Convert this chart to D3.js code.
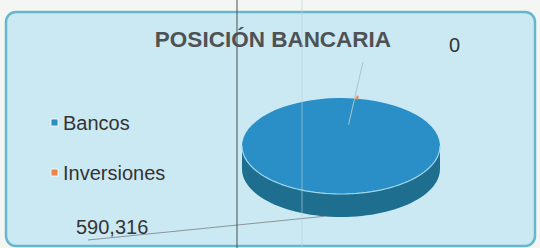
<!DOCTYPE html>
<html>
<head>
<meta charset="utf-8">
<script src="https://cdn.jsdelivr.net/npm/d3@7"></script>
<style>
  body { margin: 0; background: #f4f6f4; }
  text { font-family: "Liberation Sans", Arial, sans-serif; }
</style>
</head>
<body>
<script>
// data
var categories = ["Bancos", "Inversiones"];
var values = [590316, 0];
var valueLabels = ["590,316", "0"];
var colors = ["#2a8fc6", "#e8864c"];
var sideColors = ["#1e6e90", "#b5643a"];

var svgWidth = 540;
var svgHeight = 248;

var svg = d3.select("body")
  .append("svg")
  .attr("width", svgWidth)
  .attr("height", svgHeight);

// chart area (rounded box)
svg.append("rect")
  .attr("x", 6).attr("y", 12)
  .attr("width", 529).attr("height", 234)
  .attr("rx", 10)
  .attr("fill", "#cbe9f3")
  .attr("stroke", "#67b7cc")
  .attr("stroke-width", 2.5);

// title
svg.append("text")
  .attr("x", 273).attr("y", 47)
  .attr("text-anchor", "middle")
  .style("font-size", "22.5px")
  .style("font-weight", "bold")
  .attr("fill", "#4e5254")
  .text("POSICIÓN BANCARIA");

// pie geometry
var cx = 341, cy = 146, rx = 99, ry = 48, depth = 23;
var startAngle = 0.17;

var pie = d3.pie().sort(null).value(function(d) { return d; })
  .startAngle(startAngle).endAngle(startAngle + 2 * Math.PI);
var arcs = pie(values);

function pt(a, r, dy) {
  return [cx + r * rx * Math.sin(a), cy - r * ry * Math.cos(a) + (dy || 0)];
}

// side wall of each slice (only the front half is visible)
var pieG = svg.append("g");
arcs.forEach(function(d, i) {
  var segs = [[Math.PI / 2, 3 * Math.PI / 2], [Math.PI / 2 + 2 * Math.PI, 3 * Math.PI / 2 + 2 * Math.PI]];
  segs.forEach(function(s) {
    var a0 = Math.max(d.startAngle, s[0]);
    var a1 = Math.min(d.endAngle, s[1]);
    if (a1 <= a0) return;
    var n = 60, top = [], bot = [];
    for (var k = 0; k <= n; k++) {
      var a = a0 + (a1 - a0) * k / n;
      top.push(pt(a, 1, 0));
      bot.push(pt(a, 1, depth));
    }
    var poly = top.concat(bot.reverse());
    pieG.append("path")
      .attr("d", d3.line()(poly) + "Z")
      .attr("fill", sideColors[i]);
  });
});

// top face
var arc = d3.arc().innerRadius(0).outerRadius(rx);
pieG.append("g")
  .attr("transform", "translate(" + cx + "," + cy + ") scale(1," + (ry / rx) + ")")
  .selectAll("path")
  .data(arcs)
  .enter()
  .append("path")
  .attr("d", arc)
  .attr("fill", function(d, i) { return colors[i]; });

// light rim along the front edge
var rim = [];
for (var k = 0; k <= 60; k++) {
  var a = Math.PI / 2 + Math.PI * k / 60;
  rim.push(pt(a, 1, 0));
}
pieG.append("path")
  .attr("d", d3.line()(rim))
  .attr("fill", "none")
  .attr("stroke", "#9fd6ea")
  .attr("stroke-width", 1.2);

// data labels with leader lines
var labelPos = [[76, 234], [449, 52]];
arcs.forEach(function(d, i) {
  var mid = (d.startAngle + d.endAngle) / 2;
  var from, to;
  if (d.value === 0) {
    // zero slice: tiny mark on the rim
    var e = pt(mid, 1, 0);
    svg.append("line")
      .attr("x1", e[0]).attr("y1", e[1] - 3)
      .attr("x2", e[0] - 1).attr("y2", e[1] + 1)
      .attr("stroke", colors[i]).attr("stroke-width", 2);
    from = pt(mid, 0.45, 0);
    to = [363, 62];
  } else {
    from = pt(mid, 1, depth);
    to = [88, 240];
  }
  svg.append("line")
    .attr("x1", from[0]).attr("y1", from[1])
    .attr("x2", to[0]).attr("y2", to[1])
    .attr("stroke", d.value === 0 ? "#a7c6d0" : "#8a9599")
    .attr("stroke-width", 1);
  svg.append("text")
    .attr("x", labelPos[i][0]).attr("y", labelPos[i][1])
    .style("font-size", "20px")
    .attr("fill", "#333")
    .text(valueLabels[i]);
});

// legend
var legend = svg.append("g")
  .selectAll("g")
  .data(categories)
  .enter()
  .append("g")
  .attr("transform", function(d, i) { return "translate(51," + (119 + i * 50) + ")"; });

legend.append("rect")
  .attr("width", 7).attr("height", 7)
  .attr("fill", function(d, i) { return colors[i]; })
  .attr("stroke", "#fff").attr("stroke-width", 0.8);

legend.append("text")
  .attr("x", 12).attr("y", 4)
  .attr("dy", "0.35em")
  .style("font-size", "20px")
  .attr("fill", "#333")
  .text(function(d) { return d; });

// fold line of the scanned page
svg.append("line")
  .attr("x1", 237).attr("y1", 0)
  .attr("x2", 237).attr("y2", svgHeight)
  .attr("stroke", "#4a4f52").attr("stroke-width", 1);
svg.append("line")
  .attr("x1", 302).attr("y1", 0)
  .attr("x2", 302).attr("y2", svgHeight)
  .attr("stroke", "#b9d4dc").attr("stroke-width", 0.6);
</script>
</body>
</html>
